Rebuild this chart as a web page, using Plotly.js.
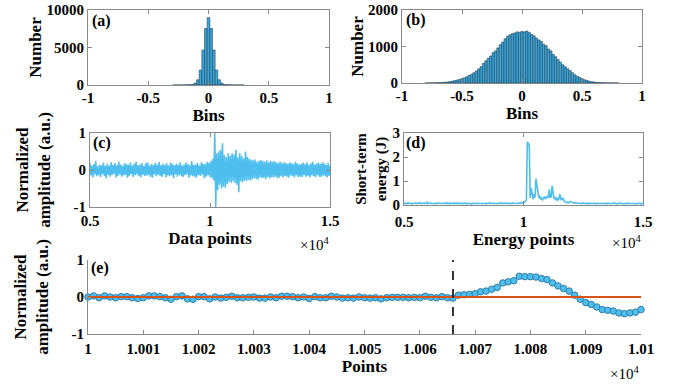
<!DOCTYPE html>
<html>
<head>
<meta charset="utf-8">
<script src="https://cdn.plot.ly/plotly-3.0.1.min.js"></script>
<style>html,body{margin:0;padding:0;background:#fff;}#chart{width:673px;height:384px;}</style>
</head>
<body>
<div id="chart"></div>
<script>
// ---------------- DATA ----------------
// (a) histogram of normalized amplitude, narrow distribution
const histA_centers = [-0.286,-0.264,-0.242,-0.22,-0.198,-0.176,-0.154,-0.132,-0.11,-0.088,-0.066,-0.044,-0.022,0,0.022,0.044,0.066,0.088,0.11,0.132,0.154,0.176,0.198,0.22,0.242,0.264,0.286];
const histA_counts  = [2,4,6,9,14,22,35,60,250,700,2000,4670,7550,8980,7550,4670,2000,700,250,60,35,22,14,9,6,4,2];

// (b) histogram, broad distribution
const histB_centers = [-0.80,-0.78,-0.76,-0.74,-0.72,-0.70,-0.68,-0.66,-0.64,-0.62,-0.60,-0.58,-0.56,-0.54,-0.52,-0.50,-0.48,-0.46,-0.44,-0.42,-0.40,-0.38,-0.36,-0.34,-0.32,-0.30,-0.28,-0.26,-0.24,-0.22,-0.20,-0.18,-0.16,-0.14,-0.12,-0.10,-0.08,-0.06,-0.04,-0.02,0.00,0.02,0.04,0.06,0.08,0.10,0.12,0.14,0.16,0.18,0.20,0.22,0.24,0.26,0.28,0.30,0.32,0.34,0.36,0.38,0.40,0.42,0.44,0.46,0.48,0.50,0.52,0.54,0.56,0.58,0.60,0.62,0.64,0.66,0.68,0.70,0.72,0.74,0.76,0.78,0.80];
const histB_counts = [1,2,3,4,6,8,11,15,20,28,38,50,64,80,98,118,142,170,205,240,280,330,385,445,540,610,680,740,830,880,960,1050,1120,1210,1280,1320,1350,1370,1400,1390,1410,1400,1425,1380,1330,1290,1230,1180,1140,1060,1020,930,880,780,720,640,570,500,445,390,340,280,225,185,150,118,90,70,50,35,25,18,12,9,6,5,4,3,2,1,1];

// (c) normalized amplitude signal, sampled every 40 data points from 5000
const signalStart = 5000, signalStep = 40;
const signalC = [
 0.18,-0.15,0.12,-0.20,0.16,-0.12,0.24,-0.17,0.10,-0.14,
 0.15,-0.19,0.13,-0.11,0.20,-0.16,0.11,-0.22,0.17,-0.13,
 0.12,-0.18,0.21,-0.14,0.14,-0.10,0.19,-0.20,0.13,-0.16,
 0.23,-0.12,0.15,-0.18,0.11,-0.15,0.18,-0.13,0.16,-0.21,
 0.14,-0.16,0.20,-0.11,0.12,-0.19,0.17,-0.14,0.22,-0.12,
 0.13,-0.17,0.15,-0.20,0.19,-0.13,0.11,-0.16,0.18,-0.15,
 0.21,-0.14,0.12,-0.18,0.16,-0.21,0.14,-0.12,0.19,-0.17,
 0.15,-0.13,0.22,-0.16,0.13,-0.19,0.17,-0.11,0.14,-0.20,
 0.18,-0.15,0.12,-0.17,0.20,-0.14,0.16,-0.22,0.13,-0.12,
 0.17,-0.18,0.14,-0.13,0.21,-0.16,0.12,-0.19,0.15,-0.14,
 0.20,-0.12,0.16,-0.21,0.13,-0.15,0.24,-0.17,0.14,-0.18,
 0.15,-0.20,0.19,-0.14,0.12,-0.16,0.21,-0.13,0.17,-0.22,
 0.16,-0.18,0.22,-0.15,0.20,-0.19,0.25,-0.22,0.30,-0.28,
 1.00,-1.00,0.45,-0.55,0.50,-0.40,0.55,-0.50,0.72,-0.45,
 0.40,-0.48,0.35,-0.38,0.45,-0.32,0.38,-0.35,0.45,-0.30,
 0.42,-0.35,0.55,-0.40,0.35,-0.60,0.45,-0.30,0.38,-0.33,
 0.32,-0.28,0.50,-0.30,0.36,-0.26,0.30,-0.28,0.28,-0.25,
 0.26,-0.22,0.28,-0.24,0.22,-0.26,0.25,-0.20,0.27,-0.22,
 0.24,-0.21,0.22,-0.25,0.26,-0.19,0.21,-0.23,0.25,-0.20,
 0.22,-0.20,0.24,-0.18,0.21,-0.22,0.19,-0.21,0.23,-0.17,
 0.18,-0.20,0.21,-0.16,0.19,-0.18,0.17,-0.21,0.20,-0.15,
 0.19,-0.17,0.16,-0.20,0.22,-0.15,0.18,-0.19,0.15,-0.18,
 0.17,-0.19,0.20,-0.14,0.16,-0.18,0.21,-0.16,0.14,-0.20,
 0.18,-0.15,0.22,-0.17,0.15,-0.19,0.17,-0.14,0.20,-0.18,
 0.16,-0.19,0.21,-0.15,0.18,-0.17,0.14,-0.20,0.19,-0.16,
 0.12];

// (d) short-term energy, same sampling
const energyD = [
 0.08,0.06,0.07,0.05,0.09,0.06,0.07,0.08,0.05,0.06,
 0.07,0.05,0.08,0.06,0.07,0.05,0.06,0.09,0.06,0.07,
 0.06,0.08,0.05,0.07,0.12,0.06,0.07,0.05,0.08,0.06,
 0.07,0.06,0.05,0.08,0.06,0.07,0.09,0.06,0.05,0.07,
 0.06,0.08,0.07,0.05,0.06,0.09,0.06,0.07,0.05,0.08,
 0.07,0.05,0.06,0.08,0.07,0.06,0.05,0.07,0.08,0.06,
 0.05,0.07,0.06,0.09,0.06,0.05,0.07,0.06,0.08,0.07,
 0.06,0.05,0.08,0.06,0.07,0.05,0.06,0.08,0.06,0.07,
 0.07,0.06,0.05,0.07,0.06,0.08,0.05,0.06,0.07,0.09,
 0.06,0.07,0.05,0.08,0.06,0.07,0.06,0.05,0.07,0.06,
 0.08,0.06,0.07,0.09,0.06,0.07,0.05,0.08,0.06,0.07,
 0.06,0.08,0.07,0.06,0.09,0.07,0.06,0.08,0.07,0.06,
 0.08,0.07,0.09,0.08,0.10,0.09,0.12,0.15,0.20,2.62,
 2.58,2.45,0.30,0.70,0.35,0.25,0.45,0.30,1.10,0.75,
 0.40,0.30,0.35,0.25,0.30,0.22,0.28,0.35,0.25,0.30,
 0.38,0.30,0.65,0.30,0.35,0.80,0.40,0.25,0.30,0.22,
 0.28,0.20,0.25,0.45,0.25,0.22,0.30,0.18,0.15,0.12,
 0.10,0.12,0.09,0.11,0.15,0.13,0.10,0.09,0.08,0.10,
 0.09,0.08,0.07,0.09,0.08,0.07,0.06,0.08,0.07,0.06,
 0.07,0.06,0.08,0.05,0.07,0.06,0.05,0.07,0.06,0.08,
 0.06,0.05,0.07,0.06,0.08,0.05,0.06,0.07,0.05,0.06,
 0.07,0.06,0.05,0.08,0.06,0.07,0.05,0.06,0.07,0.05,
 0.06,0.08,0.05,0.06,0.07,0.05,0.08,0.06,0.05,0.07,
 0.05,0.07,0.06,0.05,0.08,0.06,0.07,0.05,0.06,0.07,
 0.06,0.05,0.07,0.06,0.05,0.07,0.06,0.08,0.05,0.06,
 0.07];

// (e) zoomed points 10000..10100
const pointsStart = 10000;
const pointsE = [
 0.00,0.03,-0.02,0.03,0.00,-0.02,0.01,0.01,-0.02,-0.04,
 -0.02,0.03,0.03,0.01,-0.02,-0.06,0.01,0.03,-0.05,-0.06,
 0.01,0.01,-0.05,0.00,-0.03,-0.01,0.02,-0.02,-0.02,-0.01,
 0.00,-0.03,-0.03,0.00,-0.02,0.02,0.02,0.01,-0.02,0.00,
 -0.04,0.01,-0.02,-0.02,0.02,0.00,-0.03,-0.02,-0.03,0.00,
 -0.02,-0.03,-0.02,-0.05,-0.02,-0.01,-0.01,-0.01,-0.02,-0.01,
 -0.02,0.02,-0.01,-0.02,0.01,-0.02,-0.03,0.05,0.06,0.07,
 0.09,0.14,0.16,0.21,0.26,0.38,0.41,0.44,0.56,0.55,
 0.55,0.54,0.50,0.47,0.38,0.30,0.23,0.16,0.05,-0.06,
 -0.15,-0.20,-0.27,-0.34,-0.36,-0.38,-0.43,-0.45,-0.43,-0.41,
 -0.34];
const refLineX = [10000, 10100];
const refLineY = [0, 0];
const changePoint = 10066;

const tickE_vals = [10000,10010,10020,10030,10040,10050,10060,10070,10080,10090,10100];
const tickE_text = ['1','1.001','1.002','1.003','1.004','1.005','1.006','1.007','1.008','1.009','1.01'];
const tickCD_vals = [5000,10000,15000];
const tickCD_text = ['0.5','1','1.5'];
const tickHist_vals = [-1,-0.5,0,0.5,1];
const tickHist_text = ['-1','-0.5','0','0.5','1'];

// ---------------- BUILD ----------------
const xC = signalC.map((_, i) => signalStart + i * signalStep);
const xD = energyD.map((_, i) => signalStart + i * signalStep);
const xE = pointsE.map((_, i) => pointsStart + i);

const F = 'Liberation Serif';
const W = 673, H = 384;
const px = v => v / W;
const py = v => 1 - v / H;

function ax(extra) {
  return Object.assign({
    showline: true, linecolor: '#8a8a8a', linewidth: 1, mirror: 'ticks',
    ticks: 'inside', ticklen: 4, tickcolor: '#8a8a8a', tickwidth: 1,
    showgrid: false, zeroline: false, automargin: false, fixedrange: true,
    tickfont: {family: F, size: 15, color: '#000', weight: 'bold'}
  }, extra);
}
function ttl(text, size, standoff) {
  return {text: text, font: {family: F, size: size || 17, color: '#000', weight: 'bold'}, standoff: standoff};
}

const barColor = '#3aa6d8';
const lineColor = '#4DBEEE';

const traces = [
  {type: 'bar', x: histA_centers, y: histA_counts, width: 0.022, xaxis: 'x', yaxis: 'y',
   marker: {color: barColor, line: {color: '#24435a', width: 0.6}}, showlegend: false},
  {type: 'bar', x: histB_centers, y: histB_counts, width: 0.02, xaxis: 'x2', yaxis: 'y2',
   marker: {color: barColor, line: {color: '#24435a', width: 0.6}}, showlegend: false},
  {type: 'scatter', mode: 'lines', x: xC, y: signalC, xaxis: 'x3', yaxis: 'y3',
   line: {color: lineColor, width: 1.5}, showlegend: false},
  {type: 'scatter', mode: 'lines', x: xD, y: energyD, xaxis: 'x4', yaxis: 'y4',
   line: {color: lineColor, width: 1.6}, showlegend: false},
  {type: 'scatter', mode: 'markers', x: xE, y: pointsE, xaxis: 'x5', yaxis: 'y5', cliponaxis: false,
   marker: {color: lineColor, size: 6.5, line: {color: '#2f7fa8', width: 1}}, showlegend: false},
  {type: 'scatter', mode: 'lines', x: refLineX, y: refLineY, xaxis: 'x5', yaxis: 'y5',
   line: {color: '#D95319', width: 1.8}, showlegend: false}
];

const layout = {
  width: W, height: H,
  margin: {l: 0, r: 0, t: 0, b: 0},
  paper_bgcolor: '#fff', plot_bgcolor: '#fff',
  bargap: 0,
  showlegend: false,
  xaxis: ax({domain: [px(88), px(329)], anchor: 'y', range: [-1, 1], tickvals: tickHist_vals, ticktext: tickHist_text,
             ticklabelstandoff: -1, title: ttl('Bins', 17, 0)}),
  yaxis: ax({domain: [py(85), py(10)], anchor: 'x', range: [0, 10000], tickvals: [0, 5000, 10000], ticktext: ['0','5000','10000'],
             title: ttl('Number', 17, 0)}),
  xaxis2: ax({domain: [px(402), px(642)], anchor: 'y2', range: [-1, 1], tickvals: tickHist_vals, ticktext: tickHist_text,
              ticklabelstandoff: -1, title: ttl('Bins', 17, 0)}),
  yaxis2: ax({domain: [py(83), py(10)], anchor: 'x2', range: [0, 2000], tickvals: [0, 1000, 2000], ticktext: ['0','1000','2000'],
              title: ttl('Number', 17, 0)}),
  xaxis3: ax({domain: [px(90), px(330)], anchor: 'y3', range: [5000, 15000], tickvals: tickCD_vals, ticktext: tickCD_text,
              title: ttl('Data points', 17, 0)}),
  yaxis3: ax({domain: [py(207), py(133)], anchor: 'x3', range: [-1, 1], tickvals: [-1, 0, 1], ticktext: ['-1','0','1'],
              title: ttl('Normalized<br>amplitude (a.u.)', 17, 18)}),
  xaxis4: ax({domain: [px(404), px(643)], anchor: 'y4', range: [5000, 15000], tickvals: tickCD_vals, ticktext: tickCD_text,
              ticklabelstandoff: 3, title: ttl('Energy points', 17, 0)}),
  yaxis4: ax({domain: [py(205), py(133)], anchor: 'x4', range: [0, 3], tickvals: [0, 1, 2, 3], ticktext: ['0','1','2','3'],
              title: ttl('Short-term<br>energy (J)', 15, 2)}),
  xaxis5: ax({domain: [px(88), px(641)], anchor: 'y5', range: [10000, 10100], tickvals: tickE_vals, ticktext: tickE_text,
              mirror: false, title: ttl('Points', 17, 0), ticklabelstandoff: 1}),
  yaxis5: ax({domain: [py(334), py(260)], anchor: 'x5', range: [-1, 1], tickvals: [-1, 0, 1], ticktext: ['-1','0','1'],
              mirror: false, title: ttl('Normalized<br>amplitude (a.u.)', 17, 18)}),
  shapes: [
    {type: 'line', xref: 'x5', yref: 'y5', x0: changePoint, x1: changePoint, y0: -1, y1: 1,
     line: {color: '#333', width: 2, dash: 'dash'}}
  ],
  annotations: [
    {text: '(a)', x: px(90), y: py(21), xref: 'paper', yref: 'paper', xanchor: 'left', yanchor: 'middle', showarrow: false,
     font: {family: F, size: 16, color: '#000', weight: 'bold'}},
    {text: '(b)', x: px(404), y: py(20), xref: 'paper', yref: 'paper', xanchor: 'left', yanchor: 'middle', showarrow: false,
     font: {family: F, size: 16, color: '#000', weight: 'bold'}},
    {text: '(c)', x: px(91), y: py(143), xref: 'paper', yref: 'paper', xanchor: 'left', yanchor: 'middle', showarrow: false,
     font: {family: F, size: 16, color: '#000', weight: 'bold'}},
    {text: '(d)', x: px(404), y: py(143), xref: 'paper', yref: 'paper', xanchor: 'left', yanchor: 'middle', showarrow: false,
     font: {family: F, size: 16, color: '#000', weight: 'bold'}},
    {text: '(e)', x: px(89), y: py(268), xref: 'paper', yref: 'paper', xanchor: 'left', yanchor: 'middle', showarrow: false,
     font: {family: F, size: 16, color: '#000', weight: 'bold'}},
    {text: '×10<sup>4</sup>', x: px(331), y: py(244), xref: 'paper', yref: 'paper', xanchor: 'right', yanchor: 'middle', showarrow: false,
     font: {family: F, size: 15, color: '#000'}},
    {text: '×10<sup>4</sup>', x: px(643), y: py(242), xref: 'paper', yref: 'paper', xanchor: 'right', yanchor: 'middle', showarrow: false,
     font: {family: F, size: 15, color: '#000'}},
    {text: '×10<sup>4</sup>', x: px(641), y: py(373), xref: 'paper', yref: 'paper', xanchor: 'right', yanchor: 'middle', showarrow: false,
     font: {family: F, size: 15, color: '#000'}}
  ]
};

Plotly.newPlot('chart', traces, layout, {staticPlot: true, displayModeBar: false});
</script>
</body>
</html>
